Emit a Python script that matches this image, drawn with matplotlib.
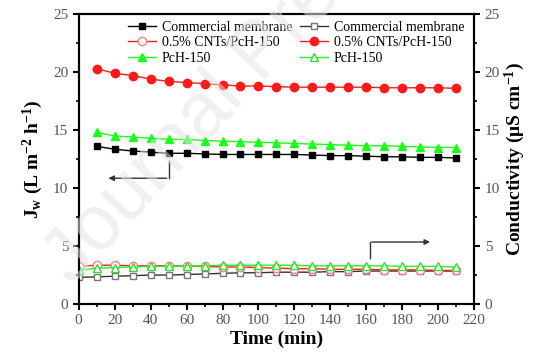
import numpy as np
import matplotlib
matplotlib.use("Agg")
import matplotlib.pyplot as plt
from matplotlib.lines import Line2D

plt.rcParams['font.family'] = ['Liberation Serif', 'DejaVu Serif']
plt.rcParams['mathtext.fontset'] = 'custom'
plt.rcParams['mathtext.rm'] = 'Liberation Serif'
plt.rcParams['mathtext.bf'] = 'Liberation Serif:bold'
plt.rcParams['mathtext.it'] = 'Liberation Serif:italic'

# flux data (left axis), t = 10..210 min
t_flux = [10, 20, 30, 40, 50, 60, 70, 80, 90, 100, 110, 120, 130, 140, 150, 160, 170, 180, 190, 200, 210]
flux_comm = [13.6, 13.35, 13.2, 13.1, 13.0, 13.0, 12.95, 12.9, 12.9, 12.9, 12.9, 12.9, 12.85, 12.8, 12.8, 12.75, 12.7, 12.7, 12.65, 12.65, 12.6]
flux_cnt = [20.3, 19.9, 19.7, 19.4, 19.2, 19.1, 19.0, 18.9, 18.8, 18.8, 18.75, 18.7, 18.7, 18.7, 18.7, 18.7, 18.65, 18.65, 18.65, 18.65, 18.6]
flux_pch = [14.8, 14.5, 14.4, 14.3, 14.2, 14.2, 14.1, 14.05, 14.0, 13.95, 13.9, 13.85, 13.8, 13.75, 13.7, 13.65, 13.65, 13.6, 13.55, 13.5, 13.5]

# conductivity data (right axis), t = 0..210 min
t_cond = [0, 10, 20, 30, 40, 50, 60, 70, 80, 90, 100, 110, 120, 130, 140, 150, 160, 170, 180, 190, 200, 210]
cond_comm = [2.3, 2.35, 2.4, 2.45, 2.5, 2.5, 2.55, 2.6, 2.65, 2.7, 2.7, 2.75, 2.75, 2.75, 2.8, 2.8, 2.85, 2.85, 2.85, 2.85, 2.85, 2.85]
cond_cnt = [3.25, 3.35, 3.35, 3.3, 3.3, 3.3, 3.3, 3.25, 3.2, 3.2, 3.15, 3.1, 3.05, 3.05, 3.0, 3.0, 3.0, 2.95, 2.95, 2.95, 2.9, 2.9]
cond_pch = [2.9, 3.1, 3.15, 3.2, 3.25, 3.25, 3.3, 3.3, 3.35, 3.35, 3.35, 3.35, 3.35, 3.3, 3.3, 3.3, 3.3, 3.3, 3.25, 3.25, 3.25, 3.2]

labels = ["Commercial membrane", "0.5% CNTs/PcH-150", "PcH-150"]

fig = plt.figure(figsize=(5.54, 3.62), dpi=100)
ax = fig.add_axes([0.142, 0.160, 0.714, 0.801])
ax2 = ax.twinx()

RED = '#ff1a1a'
GREEN = '#1aff1a'

ax.plot(t_flux, flux_comm, '-s', color='black', ms=5, lw=1)
ax.plot(t_flux, flux_cnt, '-o', color=RED, ms=6, lw=1)
ax.plot(t_flux, flux_pch, '-^', color=GREEN, ms=6, lw=1)

ax2.plot(t_cond, cond_comm, '-s', color='#333333', mfc='white', mec='#777777', ms=5, lw=1)
ax2.plot(t_cond, cond_cnt, '-o', color=RED, mfc='white', mec='#ff8080', ms=6, lw=1)
ax2.plot(t_cond, cond_pch, '-^', color=GREEN, mfc='white', mec='#33dd33', ms=6, lw=1)

for a in (ax, ax2):
    a.set_xlim(0, 220)
    a.set_ylim(0, 25)
    a.set_yticks(np.arange(0, 26, 5))
    a.set_yticks(np.arange(0, 25, 2.5), minor=True)
    for s in a.spines.values():
        s.set_linewidth(1.5)
    a.tick_params(which='major', direction='out', length=4, width=1.5, labelsize=11, labelcolor='#555555')
    a.tick_params(which='minor', direction='out', length=2.5, width=1.2)
ax.set_xticks(np.arange(0, 221, 20))
ax.set_xticks(np.arange(0, 221, 10), minor=True)

ax.set_xlabel('Time (min)', fontsize=14, fontweight='bold', labelpad=2)
ax.set_ylabel(r'$\mathbf{J_w}$ $\mathbf{(L\ m^{-2}\ h^{-1})}$', fontsize=14, labelpad=6)
ax2.set_ylabel(r'$\mathbf{Conductivity\ (\mu S\ cm^{-1})}$', fontsize=14, labelpad=2)

# arrows pointing to the axes
ax.plot([50, 50], [12.3, 10.85], color='#333333', lw=1)
ax.annotate('', xy=(15, 10.85), xytext=(50.5, 10.85),
            arrowprops=dict(arrowstyle='-|>', color='#333333', lw=1, mutation_scale=8))
ax.plot([162, 162], [3.95, 5.35], color='#333333', lw=1)
ax.annotate('', xy=(197, 5.35), xytext=(161.5, 5.35),
            arrowprops=dict(arrowstyle='-|>', color='#333333', lw=1, mutation_scale=8))

handles = [
    Line2D([], [], marker='s', color='black', ms=5, lw=1),
    Line2D([], [], marker='o', color=RED, mfc='white', mec='#ff8080', ms=6, lw=1),
    Line2D([], [], marker='^', color=GREEN, ms=6, lw=1),
    Line2D([], [], marker='s', color='#333333', mfc='white', mec='#777777', ms=5, lw=1),
    Line2D([], [], marker='o', color=RED, ms=6, lw=1),
    Line2D([], [], marker='^', color=GREEN, mfc='white', mec='#33dd33', ms=6, lw=1),
]
leg_labels = labels + labels
ax2.legend(handles, leg_labels, ncol=2, loc='upper left', bbox_to_anchor=(0.122, 0.982),
           frameon=False, fontsize=10, handlelength=2.0, handletextpad=0.4,
           labelspacing=0.18, columnspacing=0.6, borderpad=0.1, borderaxespad=0)

# watermark
fig.text(0.13, 0.21, 'Journal Pre-proof', family='Liberation Sans', fontsize=56,
         color='#e4e4e4', alpha=0.55, rotation=47, rotation_mode='anchor',
         ha='left', va='baseline', zorder=10)

fig.savefig('out.png', dpi=100)
